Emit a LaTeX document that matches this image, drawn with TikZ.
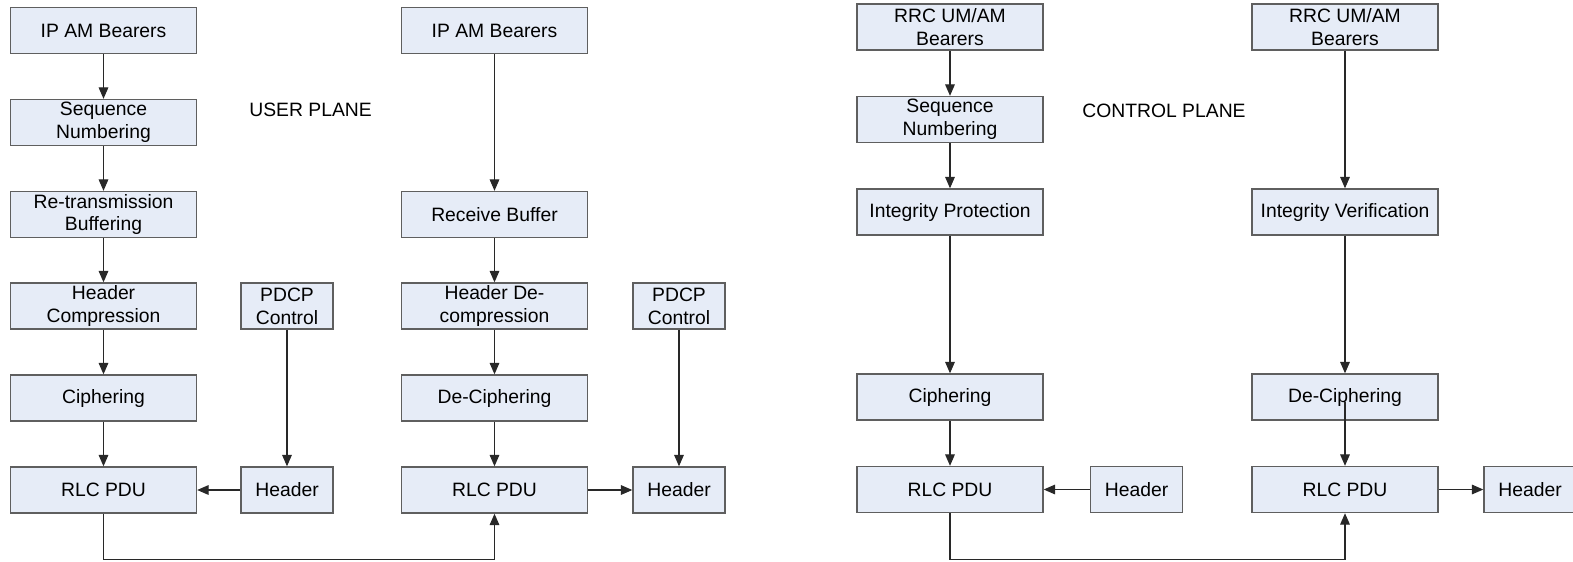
\documentclass[tikz,border=0pt]{standalone}
\usepackage{fontspec}
\setmainfont{Liberation Sans}
\usepackage{tikz}
\usetikzlibrary{arrows.meta}
\definecolor{boxfill}{RGB}{230,236,247}
\definecolor{boxline}{RGB}{95,95,95}
\definecolor{arrline}{RGB}{40,40,40}

\begin{document}
\begin{tikzpicture}[
    font=\fontsize{11}{13}\selectfont,
    wide/.style={draw=boxline, line width=0.8pt, fill=boxfill, minimum width=3.72cm, minimum height=0.92cm, inner sep=0pt, align=center},
    small/.style={wide, minimum width=1.84cm},
    arr/.style={draw=arrline, line width=0.6pt, -{Triangle[length=6.5pt,width=5.5pt]}},
    planetext/.style={anchor=west, inner sep=0pt}
]
    \useasboundingbox (0,0) rectangle (31.46,-11.22);
    % user plane, sending side
    \node[wide] (ipam1) at (2.07,-0.61) {IP AM Bearers};
    \node[wide] (seq1) at (2.07,-2.45) {Sequence\\Numbering};
    \node[wide] (retx1) at (2.07,-4.29) {Re-transmission\\Buffering};
    \node[wide] (hcomp1) at (2.07,-6.12) {Header\\Compression};
    \node[wide] (ciph1) at (2.07,-7.96) {Ciphering};
    \node[wide] (rlc1) at (2.07,-9.80) {RLC PDU};
    \node[small] (pdcp1) at (5.74,-6.12) {PDCP\\Control};
    \node[small] (hdr1) at (5.74,-9.80) {Header};
    \node[planetext] (user) at (4.98,-2.20) {USER PLANE};
    % user plane, receiving side
    \node[wide] (ipam2) at (9.89,-0.61) {IP AM Bearers};
    \node[wide] (rbuf2) at (9.89,-4.29) {Receive Buffer};
    \node[wide] (hdec2) at (9.89,-6.12) {Header De-\\compression};
    \node[wide] (deciph2) at (9.89,-7.96) {De-Ciphering};
    \node[wide] (rlc2) at (9.89,-9.80) {RLC PDU};
    \node[small] (pdcp2) at (13.58,-6.12) {PDCP\\Control};
    \node[small] (hdr2) at (13.58,-9.80) {Header};
    % control plane, sending side
    \node[wide] (rrc3) at (19.00,-0.54) {RRC UM/AM\\Bearers};
    \node[wide] (seq3) at (19.00,-2.39) {Sequence\\Numbering};
    \node[wide] (intprot3) at (19.00,-4.24) {Integrity Protection};
    \node[wide] (ciph3) at (19.00,-7.94) {Ciphering};
    \node[wide] (rlc3) at (19.00,-9.79) {RLC PDU};
    \node[small] (hdr3) at (22.73,-9.79) {Header};
    \node[planetext] (control) at (21.64,-2.22) {CONTROL PLANE};
    % control plane, receiving side
    \node[wide] (rrc4) at (26.90,-0.54) {RRC UM/AM\\Bearers};
    \node[wide] (intver4) at (26.90,-4.24) {Integrity Verification};
    \node[wide] (deciph4) at (26.90,-7.94) {De-Ciphering};
    \node[wide] (rlc4) at (26.90,-9.79) {RLC PDU};
    \node[small] (hdr4) at (30.60,-9.79) {Header};

    \draw[arr] (ipam1) -- (seq1);
    \draw[arr] (seq1) -- (retx1);
    \draw[arr] (retx1) -- (hcomp1);
    \draw[arr] (hcomp1) -- (ciph1);
    \draw[arr] (ciph1) -- (rlc1);
    \draw[arr] (pdcp1) -- (hdr1);
    \draw[arr] (hdr1) -- (rlc1);
    \draw[arr] (rlc1.south) -- ++(0,-0.91) -| (rlc2.south);

    \draw[arr] (ipam2) -- (rbuf2);
    \draw[arr] (rbuf2) -- (hdec2);
    \draw[arr] (hdec2) -- (deciph2);
    \draw[arr] (deciph2) -- (rlc2);
    \draw[arr] (pdcp2) -- (hdr2);
    \draw[arr] (rlc2) -- (hdr2);

    \draw[arr] (rrc3) -- (seq3);
    \draw[arr] (seq3) -- (intprot3);
    \draw[arr] (intprot3) -- (ciph3);
    \draw[arr] (ciph3) -- (rlc3);
    \draw[arr] (hdr3) -- (rlc3);
    \draw[arr] (rlc3.south) -- ++(0,-0.92) -| (rlc4.south);

    \draw[arr] (rrc4) -- (intver4);
    \draw[arr] (intver4) -- (deciph4);
    \draw[arr] ([yshift=-3pt]deciph4.center) -- (rlc4.north);
    \draw[arr] (rlc4) -- (hdr4);
\end{tikzpicture}
\end{document}
